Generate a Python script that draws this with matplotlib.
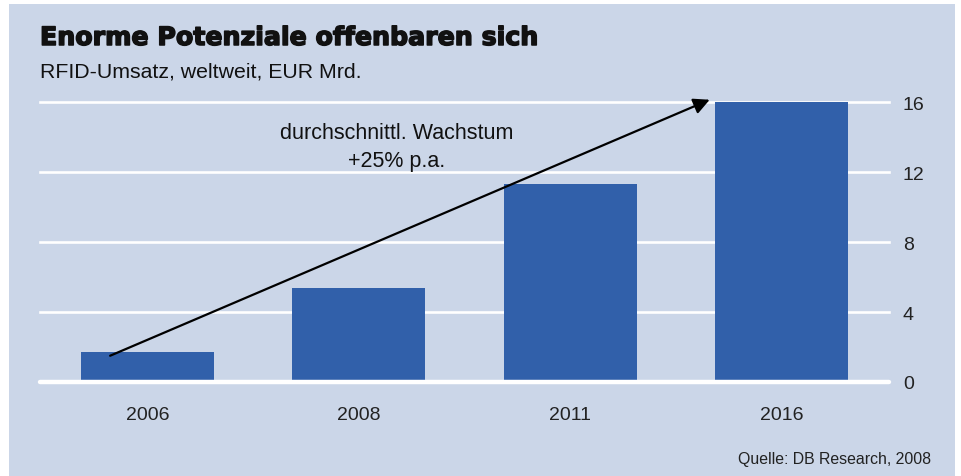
import numpy as np
import matplotlib
matplotlib.use('Agg')
from matplotlib import pyplot as plt
from matplotlib.patches import Rectangle
import matplotlib.patheffects as pe

# data
years = ['2006', '2008', '2011', '2016']
umsatz = [1.7, 5.4, 11.3, 16.0]
yticks = [0, 4, 8, 12, 16]

title = 'Enorme Potenziale offenbaren sich'
subtitle = 'RFID-Umsatz, weltweit, EUR Mrd.'
note = 'durchschnittl. Wachstum\n+25% p.a.'
source = 'Quelle: DB Research, 2008'

bg = '#cbd6e8'
bar_col = '#3160aa'

plt.rcParams['font.family'] = ['Liberation Sans', 'DejaVu Sans']

W, H = 961, 477
fig = plt.figure(figsize=(W / 100, H / 100), dpi=100, facecolor='white')

# light blue panel with white frame
fig.patches.append(Rectangle((9 / W, 0), (955 - 9) / W, (477 - 5) / H,
                             transform=fig.transFigure, facecolor=bg,
                             edgecolor='none', zorder=-5))

ax = fig.add_axes([40 / W, (H - 383) / H, (889 - 40) / W, (383 - 103) / H])
ax.set_facecolor('none')

xs = np.arange(len(years))
ax.set_xlim(-0.51, len(years) - 0.49)
ax.set_ylim(0, 16)

# gridlines
for t in yticks[1:]:
    ax.axhline(t, color='white', lw=1.9, zorder=1, clip_on=False)
ax.axhline(0, color='white', lw=3.2, zorder=3, clip_on=False,
           solid_capstyle='round')

ax.bar(xs, umsatz, width=0.63, color=bar_col, zorder=2)

for s in ax.spines.values():
    s.set_visible(False)

ax.yaxis.tick_right()
ax.set_yticks(yticks)
ax.set_yticklabels([str(t) for t in yticks])
ax.set_xticks(xs)
ax.set_xticklabels(years)
ax.tick_params(axis='both', length=0, labelsize=14, colors='#222222')
ax.tick_params(axis='y', pad=10)
ax.tick_params(axis='x', pad=17.5)

# growth arrow
ax.annotate('', xy=(2.661, 16.13), xytext=(-0.178, 1.50),
            arrowprops=dict(arrowstyle='-|>', color='black', lw=1.6,
                            mutation_scale=24, shrinkA=0, shrinkB=0),
            annotation_clip=False, zorder=4)
ax.text(1.18, 13.45, note, ha='center', va='center', fontsize=15.5,
        color='#111111', linespacing=1.45)

fig.text(40 / W, 1 - 46 / H, title, fontsize=18.2, fontweight='bold',
         family=['DejaVu Sans'], color='#111111', ha='left', va='baseline',
         path_effects=[pe.withStroke(linewidth=1.1, foreground='#111111')])
fig.text(40 / W, 1 - 72 / H, subtitle, fontsize=15.3, color='#111111',
         ha='left', va='center')
fig.text(931 / W, 1 - 460 / H, source, fontsize=11.4, color='#222222',
         ha='right', va='center')

fig.savefig('out.png', dpi=100, facecolor='white')
